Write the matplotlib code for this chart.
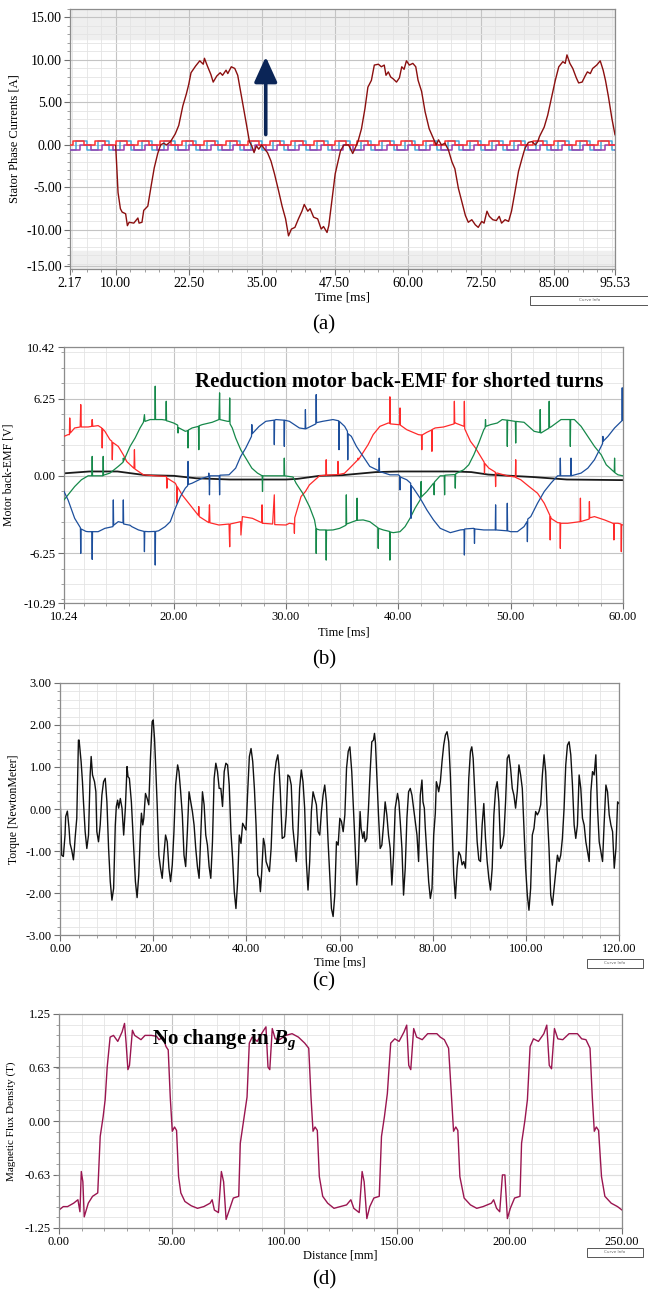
import numpy as np
import matplotlib.pyplot as plt
from matplotlib.ticker import MultipleLocator, FixedLocator
from matplotlib.patches import Rectangle

plt.rcParams['font.family'] = ['Liberation Serif', 'DejaVu Serif']
plt.rcParams['mathtext.fontset'] = 'custom'
plt.rcParams['mathtext.it'] = 'Liberation Serif:italic:bold'
plt.rcParams['mathtext.rm'] = 'Liberation Serif:bold'

# ---------------- (a) stator phase current ----------------
cur_t = [10.0, 10.2, 10.4, 10.8, 11.1, 11.7, 12.0, 12.3, 13.1, 13.8, 14.0, 14.5, 14.8, 15.5, 16.1, 16.6,
         17.2, 17.7, 18.2, 18.7, 19.4, 20.2, 20.8, 21.5, 22.1, 22.5, 22.9, 23.7, 24.4, 25.0, 25.2, 25.7,
         26.3, 26.7, 27.3, 27.9, 28.3, 28.9, 29.2, 29.8, 30.4, 30.9, 31.5, 31.9, 32.4, 32.9, 33.3, 33.7,
         34.1, 34.5, 35.0, 35.4, 36.0, 36.6, 37.2, 37.9, 38.5, 39.1, 39.6, 40.1, 40.7, 41.3, 41.9, 42.3,
         42.9, 43.3, 43.9, 44.6, 45.2, 45.6, 46.2, 46.5, 47.1, 47.6, 48.1, 48.5, 49.1, 49.9, 50.6, 51.0,
         51.5, 52.1, 52.7, 53.2, 53.8, 54.3, 55.0, 55.5, 56.0, 56.3, 56.7, 57.1, 57.5, 58.1, 58.6, 59.0,
         59.4, 59.8, 60.3, 60.9, 61.4, 61.8, 62.4, 63.0, 63.7, 64.4, 64.9, 65.3, 65.8, 66.4, 67.0, 67.6,
         68.1, 68.7, 69.3, 69.9, 70.4, 71.0, 71.6, 72.1, 72.7, 73.1, 73.6, 74.0, 74.6, 75.2, 75.7, 76.1,
         76.7, 77.3, 77.8, 78.4, 79.0, 79.6, 80.1, 80.7, 81.3, 81.9, 82.3, 82.6, 83.4, 84.0, 84.5, 85.3,
         85.9, 86.6, 87.0, 87.3, 87.8, 88.3, 88.9, 89.3, 89.9, 90.4, 90.8, 91.3, 91.7, 92.4, 93.0, 93.5,
         93.9, 94.4, 95.0, 95.53]
cur_v = [-0.1, -2.9, -5.6, -7.5, -7.9, -8.1, -9.5, -9.1, -9.2, -8.6, -9.2, -9.1, -7.7, -7.2, -4.7, -2.7,
         -1.0, 0.0, 0.2, 0.0, 0.4, 1.3, 2.3, 4.6, 6.0, 7.1, 8.5, 9.3, 9.9, 9.5, 10.2, 9.3,
         8.3, 7.4, 8.1, 8.5, 8.2, 8.8, 8.4, 9.2, 9.0, 8.2, 5.9, 4.4, 2.4, 0.4, -0.1, -0.9,
         -0.1, -0.5, 0.0, -0.4, -0.9, -1.9, -3.4, -5.4, -7.2, -8.7, -10.7, -9.9, -9.7, -8.7, -7.8, -7.0,
         -7.8, -7.5, -8.5, -8.7, -9.9, -9.6, -10.3, -9.5, -6.2, -3.4, -1.9, -0.7, 0.0, 0.0, -1.0, -0.4,
         0.4, 1.9, 4.3, 6.8, 7.6, 9.4, 9.5, 9.2, 9.4, 8.2, 8.6, 8.0, 7.8, 7.4, 7.9, 9.2,
         8.9, 9.9, 9.4, 9.6, 9.2, 7.6, 6.3, 3.9, 1.9, 0.8, 0.0, 0.6, 0.0, 0.2, -0.6, -2.0,
         -2.8, -5.1, -6.7, -8.3, -9.1, -8.8, -9.4, -9.7, -9.0, -9.2, -7.8, -8.4, -8.8, -8.9, -8.4, -9.2,
         -8.8, -9.0, -7.8, -5.5, -3.1, -1.6, -0.4, 0.3, 0.4, 0.0, 0.4, 1.0, 2.1, 3.5, 5.1, 7.6,
         9.2, 9.8, 9.6, 10.6, 9.6, 9.0, 7.9, 7.3, 7.4, 8.1, 8.6, 8.4, 9.0, 9.4, 9.9, 8.8,
         7.6, 5.7, 3.1, 1.2]

# switching signals drawn around zero (edge times in ms)
sw_red_edges = [2.6, 4.5, 6.4, 8.2, 10.1, 12.0, 13.9, 15.7, 17.6, 19.5, 21.4, 23.2, 25.1, 27.0, 28.9,
                30.7, 32.6, 34.5, 36.4, 38.2, 40.1, 42.0, 43.9, 45.7, 47.6, 49.5, 51.4, 53.2, 55.1, 57.0,
                58.9, 60.7, 62.6, 64.5, 66.4, 68.2, 70.1, 72.0, 73.9, 75.7, 77.6, 79.5, 81.4, 83.2, 85.1,
                87.0, 88.9, 90.7, 92.6, 94.5]
sw_purple_edges = [3.9, 5.7, 7.6, 9.5, 11.4, 13.2, 15.1, 17.0, 18.9, 20.7, 22.6, 24.5, 26.4, 28.2, 30.1,
                   32.0, 33.9, 35.7, 37.6, 39.5, 41.4, 43.2, 45.1, 47.0, 48.9, 50.7, 52.6, 54.5, 56.4, 58.2,
                   60.1, 62.0, 63.9, 65.7, 67.6, 69.5, 71.4, 73.2, 75.1, 77.0, 78.9, 80.7, 82.6, 84.5, 86.4,
                   88.2, 90.1, 92.0, 93.9, 95.7]
sw_blue_edges = [3.2, 5.1, 7.0, 8.8, 10.7, 12.6, 14.5, 16.3, 18.2, 20.1, 22.0, 23.8, 25.7, 27.6, 29.5,
                 31.3, 33.2, 35.1, 37.0, 38.8, 40.7, 42.6, 44.5, 46.3, 48.2, 50.1, 52.0, 53.8, 55.7, 57.6,
                 59.5, 61.3, 63.2, 65.1, 67.0, 68.8, 70.7, 72.6, 74.5, 76.3, 78.2, 80.1, 82.0, 83.8, 85.7,
                 87.6, 89.5, 91.3, 93.2, 95.1]

# ---------------- (b) back-EMF ----------------
red_t = [10.24, 10.6, 10.72, 10.75, 10.8, 11.19, 11.68, 11.73, 11.78, 12.39, 12.7, 12.75, 12.8, 13.28, 13.6,
         13.64, 13.68, 13.88, 14.33, 14.5, 14.54, 14.58, 15.07, 15.52, 15.82, 16.47, 16.51, 16.55, 16.87,
         17.31, 18.36, 19.25, 19.36, 19.40, 19.44, 20.15, 20.26, 20.30, 20.34, 20.75, 21.34, 22.2, 22.24,
         22.28, 23.13, 23.19, 23.23, 24.03, 24.93, 24.99, 25.03, 25.97, 25.99, 26.12, 27.01, 27.85, 27.87,
         27.91, 28.81, 28.96, 29.0, 30.0, 30.30, 30.72, 30.75, 30.78, 30.90, 31.34, 31.73, 32.09, 32.99,
         33.55, 33.58, 33.61, 34.60, 34.63, 34.66, 35.2, 35.67, 36.40, 36.42, 36.45, 37.31, 37.76, 38.36,
         39.10, 39.22, 39.25, 39.28, 40.0, 40.12, 40.15, 40.18, 40.75, 41.79, 42.06, 42.09, 42.12, 42.54,
         42.96, 42.99, 43.02, 43.28, 44.03, 44.96, 44.99, 45.02, 45.07, 45.85, 45.88, 45.91, 46.42, 46.87,
         47.61, 47.64, 47.67, 47.70, 48.06, 48.63, 48.66, 48.69, 48.81, 49.70, 50.42, 50.45, 50.48, 50.90,
         51.64, 52.39, 52.99, 53.49, 53.52, 53.55, 53.58, 54.18, 54.39, 54.42, 54.45, 55.07, 56.18, 56.21,
         56.24, 56.98, 57.01, 57.04, 57.46, 58.36, 59.10, 59.16, 59.19, 59.22, 59.55, 59.82, 59.85, 59.88,
         60.0]
red_v = [3.19, 3.33, 3.33, 4.68, 3.46, 3.87, 3.95, 5.76, 3.95, 3.95, 4.0, 4.55, 4.0, 4.06, 3.87,
         2.25, 3.8, 3.60, 2.92, 2.8, 1.30, 2.7, 2.38, 1.70, 1.16, 0.6, 2.11, 0.55, 0.35,
         0.08, 0.0, -0.05, -0.05, -1.0, -0.2, -0.60, -0.8, -2.22, -0.9, -1.54, -2.22, -3.2, -2.49,
         -3.3, -3.79, -2.35, -3.8, -3.98, -3.90, -5.74, -3.9, -3.71, -4.79, -3.30, -3.44, -3.8, -2.35,
         -3.84, -3.90, -1.54, -3.95, -3.98, -3.84, -3.9, -4.65, -3.4, -3.03, -1.68, -1.27, -0.73, 0.0,
         0.05, 1.30, 0.05, 0.1, 1.16, 0.1, 0.2, 0.62, 1.3, 1.43, 1.3, 2.52, 3.33, 4.00,
         4.27, 4.27, 6.39, 4.2, 4.14, 4.14, 5.49, 4.1, 3.73, 3.33, 3.3, 2.11, 3.3, 3.52,
         3.7, 1.98, 3.75, 3.87, 3.95, 4.2, 6.03, 4.27, 4.27, 4.0, 6.03, 3.8, 2.79, 2.25,
         1.16, 1.1, 0.22, 1.0, 0.62, 0.3, -0.87, 0.2, 0.22, 0.0, -0.1, 1.3, -0.15, -0.32,
         -0.87, -1.41, -2.22, -3.2, -5.19, -3.3, -3.44, -3.79, -3.8, -5.87, -3.84, -3.84, -3.71, -1.81,
         -3.7, -3.5, -2.08, -3.4, -3.30, -3.57, -3.84, -3.84, -5.19, -3.84, -3.84, -3.9, -6.14, -3.95,
         -3.98]

green_t = [10.24, 10.6, 11.19, 11.79, 12.39, 12.72, 12.75, 12.78, 13.28, 13.70, 13.73, 13.76, 14.33, 15.07,
           15.5, 15.52, 15.55, 16.12, 16.57, 17.01, 17.31, 17.40, 17.45, 17.91, 18.33, 18.36, 18.39, 18.96,
           19.31, 19.34, 19.37, 19.55, 20.0, 20.36, 20.39, 20.42, 21.04, 21.25, 21.28, 21.31, 21.64, 22.21,
           22.24, 22.27, 22.54, 23.43, 24.03, 24.09, 24.12, 24.78, 24.96, 24.99, 25.02, 25.22, 25.52, 25.97,
           26.42, 26.96, 27.46, 27.88, 27.91, 27.94, 28.81, 29.82, 29.85, 29.88, 30.63, 30.90, 31.49, 32.09,
           32.54, 32.66, 32.69, 32.72, 32.99, 33.55, 33.58, 33.61, 34.18, 34.78, 35.34, 35.37, 35.40, 35.97,
           36.30, 36.33, 36.36, 36.87, 37.46, 38.06, 38.18, 38.21, 38.24, 38.66, 39.22, 39.25, 39.28, 39.55,
           40.15, 40.60, 41.04, 41.49, 41.94, 42.0, 42.03, 42.06, 42.54, 43.13, 43.16, 43.19, 43.22, 43.73,
           44.09, 44.12, 44.15, 44.63, 45.04, 45.07, 45.10, 45.22, 45.82, 46.27, 46.72, 47.16, 47.61, 47.73,
           47.76, 47.79, 48.21, 48.81, 49.25, 49.67, 49.70, 49.73, 50.30, 50.42, 50.45, 50.48, 51.19, 52.09,
           52.60, 52.63, 52.66, 52.69, 53.40, 53.43, 53.46, 53.58, 54.48, 55.28, 55.31, 55.34, 55.67, 56.27,
           56.87, 57.46, 58.06, 58.51, 59.22, 59.25, 59.28, 59.55, 60.0]
green_v = [-1.95, -1.54, -0.87, -0.32, 0.0, 0.0, 1.57, 0.0, 0.0, 0.0, 1.57, 0.05, 0.22, 0.76,
           1.1, 1.43, 1.2, 2.38, 3.06, 3.87, 4.33, 4.95, 4.4, 4.55, 4.55, 7.25, 4.55, 4.55,
           4.5, 6.03, 4.45, 4.41, 4.27, 4.1, 3.46, 3.9, 3.60, 3.65, 2.25, 3.7, 3.87, 4.0,
           2.11, 4.05, 4.14, 4.33, 4.55, 6.71, 4.55, 4.41, 4.4, 6.30, 4.2, 3.87, 3.06, 2.11,
           1.43, 0.62, 0.22, 0.0, -1.27, 0.0, 0.0, 0.0, 1.43, 0.0, -0.1, -0.60, -1.41, -2.49,
           -3.57, -4.2, -6.28, -4.3, -4.38, -4.38, -6.82, -4.4, -4.38, -4.25, -4.0, -1.54, -3.9, -3.71,
           -3.6, -1.81, -3.6, -3.57, -3.71, -4.11, -4.2, -5.87, -4.25, -4.38, -4.5, -6.82, -4.55, -4.60,
           -4.52, -4.11, -3.44, -2.62, -1.95, -1.8, -0.46, -1.7, -1.27, -0.60, -0.6, -1.54, -0.5, 0.0,
           0.0, -1.54, 0.05, 0.08, 0.1, -1.0, 0.15, 0.22, 0.49, 0.89, 1.70, 2.65, 3.73, 3.9,
           4.55, 4.0, 4.14, 4.27, 4.55, 4.5, 2.38, 4.5, 4.41, 4.4, 2.65, 4.4, 4.33, 3.60,
           3.5, 5.36, 3.5, 3.46, 3.85, 6.03, 3.9, 3.95, 4.55, 4.55, 2.38, 4.55, 4.55, 4.0,
           3.19, 2.38, 1.70, 0.89, 0.3, 1.43, 0.25, 0.08, 0.0]

blue_t = [10.24, 10.6, 11.19, 11.64, 11.70, 11.73, 11.76, 12.2, 12.39, 12.72, 12.75, 12.78, 13.28, 13.88,
          14.60, 14.63, 14.66, 15.07, 15.49, 15.52, 15.55, 16.12, 16.27, 16.87, 17.37, 17.40, 17.43, 17.76,
          18.33, 18.36, 18.39, 18.66, 19.25, 19.70, 20.15, 20.60, 21.04, 21.25, 21.28, 21.31, 21.64, 22.54,
          23.10, 23.13, 23.16, 23.19, 23.22, 24.06, 24.09, 24.12, 24.93, 25.52, 25.97, 26.42, 26.93, 26.96,
          26.99, 27.61, 28.21, 28.93, 28.96, 28.99, 29.10, 29.82, 29.85, 29.88, 30.30, 31.19, 31.70, 31.73,
          31.76, 32.09, 32.66, 32.69, 32.72, 33.28, 34.18, 34.69, 34.72, 34.75, 35.22, 35.47, 35.50, 35.53,
          35.82, 36.27, 36.87, 37.46, 38.27, 38.30, 38.33, 39.25, 40.0, 40.12, 40.15, 40.18, 40.75, 41.10,
          41.13, 41.16, 41.34, 41.94, 42.54, 43.13, 43.73, 44.63, 45.52, 45.85, 45.88, 45.91, 46.72, 46.75,
          46.78, 46.81, 47.61, 48.63, 48.66, 48.69, 49.67, 49.70, 49.73, 50.0, 50.60, 51.19, 51.46, 51.49,
          51.52, 51.79, 52.39, 52.99, 53.58, 54.18, 54.39, 54.42, 54.45, 55.34, 55.37, 55.40, 56.27, 56.87,
          57.46, 58.06, 58.18, 58.21, 58.24, 58.66, 59.25, 59.85, 59.90, 59.93, 59.96, 60.0]
blue_v = [-1.27, -1.95, -3.44, -4.11, -4.2, -6.28, -4.3, -4.5, -4.52, -4.52, -6.76, -4.52, -4.52, -4.25,
          -4.11, -1.95, -4.0, -3.71, -3.8, -1.95, -3.9, -4.0, -4.11, -4.38, -4.5, -6.14, -4.5, -4.52,
          -4.5, -7.22, -4.5, -4.45, -4.11, -3.71, -2.62, -1.68, -1.0, -0.8, 1.16, -0.7, -0.60, -0.2,
          -0.05, 0.22, -0.1, -1.54, 0.0, 0.0, -1.54, 0.05, 0.08, 0.62, 1.57, 2.25, 3.19, 4.14,
          3.4, 4.00, 4.41, 4.5, 2.52, 4.5, 4.55, 4.5, 2.38, 4.5, 4.41, 3.87, 3.8, 5.36,
          3.8, 3.95, 4.2, 6.57, 4.3, 4.41, 4.55, 4.45, 2.11, 4.4, 4.00, 3.6, 1.30, 3.4,
          3.19, 2.38, 1.57, 0.76, 0.4, 1.43, 0.35, 0.08, 0.08, 0.0, -1.14, -0.1, -0.32, -0.6,
          -3.44, -0.8, -1.0, -1.81, -2.76, -3.57, -4.25, -4.60, -4.38, -4.35, -6.41, -4.3, -4.25, -4.3,
          -5.47, -4.3, -4.38, -4.38, -2.35, -4.38, -4.45, -2.22, -4.45, -4.52, -4.52, -4.11, -3.7, -5.33,
          -3.5, -3.30, -2.22, -1.27, -0.60, 0.0, 0.0, 1.43, 0.0, 0.0, 1.43, 0.0, 0.22, 0.62,
          1.30, 2.38, 2.6, 3.19, 2.8, 3.19, 3.87, 4.41, 4.45, 7.12, 4.5, 4.55]

emf0_t = [10.24, 12.5, 15.0, 17.5, 20.0, 22.0, 25.0, 30.0, 31.0, 33.0, 35.0, 38.0, 40.0, 45.0, 46.5,
          48.0, 50.0, 52.0, 55.0, 60.0]
emf0_v = [0.2, 0.35, 0.35, 0.05, 0.0, -0.2, -0.3, -0.3, -0.25, 0.0, 0.05, 0.3, 0.35, 0.35, 0.3,
          0.1, 0.0, -0.1, -0.3, -0.35]

# ---------------- (c) torque ----------------
torque_t = [0.0, 0.15, 0.36, 0.72, 1.08, 1.22, 1.58, 1.94, 2.16, 2.52, 2.88, 3.09, 3.24, 3.60, 3.96, 4.10,
            4.53, 4.82, 5.04, 5.40, 5.76, 6.12, 6.47, 6.69, 6.98, 7.41, 7.70, 7.91, 8.27, 8.63, 8.99, 9.35,
            9.71, 10.07, 10.43, 10.79, 11.15, 11.51, 11.87, 12.09, 12.37, 12.59, 12.95, 13.31, 13.67, 14.03,
            14.39, 14.60, 14.89, 15.32, 15.83, 16.19, 16.55, 16.91, 17.27, 17.48, 17.77, 17.99, 18.35, 18.71,
            19.06, 19.42, 19.78, 20.00, 20.29, 20.50, 20.86, 21.22, 21.58, 21.94, 22.30, 22.66, 23.02, 23.38,
            23.74, 24.10, 24.46, 24.82, 25.25, 25.54, 25.90, 26.26, 26.62, 26.98, 27.34, 27.70, 28.06, 28.42,
            28.78, 29.14, 29.50, 29.86, 30.22, 30.58, 30.94, 31.29, 31.65, 32.01, 32.37, 32.73, 33.09, 33.45,
            33.81, 34.17, 34.53, 34.89, 35.25, 35.61, 35.97, 36.33, 36.69, 37.05, 37.41, 37.77, 38.13, 38.49,
            38.85, 39.21, 39.57, 39.93, 40.29, 40.65, 41.01, 41.37, 41.73, 42.09, 42.45, 42.81, 43.02, 43.31,
            43.67, 43.96, 44.24, 44.60, 44.96, 45.32, 45.68, 46.04, 46.40, 46.76, 46.98, 47.27, 47.70, 48.20,
            48.56, 48.92, 49.28, 49.64, 50.00, 50.36, 50.72, 51.08, 51.44, 51.80, 52.16, 52.52, 52.88, 53.24,
            53.60, 53.96, 54.32, 54.68, 55.04, 55.40, 55.76, 56.12, 56.47, 56.83, 57.19, 57.55, 57.91, 58.27,
            58.63, 58.99, 59.35, 59.71, 60.07, 60.43, 60.79, 61.15, 61.51, 61.87, 62.23, 62.63, 62.99, 63.35,
            63.70, 64.06, 64.42, 64.64, 65.00, 65.28, 65.50, 65.86, 66.22, 66.58, 66.93, 67.29, 67.51, 67.72,
            68.01, 68.37, 68.73, 69.09, 69.45, 69.80, 70.16, 70.52, 70.88, 71.24, 71.60, 71.96, 72.46, 72.75,
            73.04, 73.40, 73.75, 74.11, 74.47, 74.83, 75.19, 75.55, 75.91, 76.27, 76.63, 76.98, 77.34, 77.70,
            77.92, 78.21, 78.42, 78.78, 79.14, 79.50, 79.86, 80.22, 80.57, 80.79, 81.08, 81.29, 81.65, 82.01,
            82.37, 82.73, 83.09, 83.45, 83.80, 84.16, 84.52, 84.88, 85.24, 85.60, 85.96, 86.32, 86.68, 87.04,
            87.39, 87.75, 88.11, 88.40, 88.69, 88.97, 89.26, 89.55, 89.91, 90.27, 90.62, 90.98, 91.34, 91.70,
            92.06, 92.42, 92.78, 93.14, 93.50, 93.85, 94.21, 94.57, 94.93, 95.29, 95.65, 96.01, 96.37, 96.73,
            97.09, 97.44, 97.80, 98.16, 98.52, 98.88, 99.24, 99.60, 99.96, 100.32, 100.67, 101.03, 101.39,
            101.75, 102.11, 102.47, 102.83, 103.19, 103.55, 103.91, 104.26, 104.62, 104.98, 105.34, 105.70,
            106.06, 106.42, 106.78, 107.14, 107.49, 107.85, 108.21, 108.57, 108.93, 109.29, 109.65, 110.01,
            110.37, 110.72, 111.08, 111.44, 111.80, 112.16, 112.52, 112.88, 113.24, 113.60, 113.96, 114.31,
            114.67, 115.03, 115.39, 115.75, 116.11, 116.47, 116.83, 117.19, 117.54, 117.90, 118.26, 118.62,
            118.98, 119.34, 119.70, 120.0]
torque_v = [0.33, -0.22, -1.10, -1.13, -0.62, -0.18, -0.05, -0.46, -0.82, -0.98, -1.21, -0.94, -0.70, -0.22,
            1.64, 1.64, 1.13, 0.65, 0.17, -0.54, -0.94, -0.62, 0.81, 1.25, 0.81, 0.65, 0.41, -0.54, -0.78,
            -0.38, 0.33, 0.65, 0.73, 0.17, -0.94, -1.73, -2.17, -1.89, -0.38, 0.06, 0.21, 0.02, 0.25, 0.02,
            -0.62, 0.02, 1.01, 0.77, 0.73, 0.17, -0.94, -1.73, -2.11, -1.57, -0.54, -0.10, -0.38, -0.22, 0.37,
            0.25, 0.10, 1.21, 2.08, 2.12, 1.68, 1.13, 0.10, -1.10, -1.41, -1.65, -1.10, -0.62, -0.78, -1.41,
            -1.73, -1.33, -0.54, 0.57, 1.05, 0.89, 0.41, -0.14, -1.10, -1.37, -0.54, 0.41, 0.17, -0.06, -0.38,
            -0.94, -1.37, -1.65, -0.62, 0.41, 0.10, -0.62, -0.86, -1.37, -1.65, -0.78, 0.73, 1.09, 0.89, 0.49,
            0.49, 0.06, 0.89, 1.09, 1.05, 0.57, -0.54, -1.17, -1.97, -2.37, -1.73, -0.62, -0.82, -0.34, -0.42,
            -0.50, 0.41, 1.25, 1.44, 1.13, 0.49, -0.38, -1.57, -1.65, -1.97, -1.49, -0.70, -0.86, -1.25, -1.37,
            -1.49, -0.94, 0.10, 0.81, 1.13, 1.29, 1.05, 0.49, -0.70, -0.66, -0.14, 0.81, 0.77, 0.57, -0.46,
            -0.86, -1.25, -0.62, 0.49, 0.93, 0.65, 0.02, -1.25, -1.93, -1.25, -0.06, 0.41, 0.25, 0.10, -0.54,
            -0.62, -0.06, 0.33, 0.57, 0.17, -0.78, -1.57, -2.37, -2.56, -2.04, -0.78, -0.86, -0.22, -0.30,
            -0.54, -0.14, 0.97, 1.37, 1.48, 0.89, 0.02, -0.86, -1.81, -1.25, -0.06, -0.46, -0.70, -0.54, -0.78,
            -0.70, 0.02, 0.89, 1.60, 1.64, 1.80, 1.57, 0.81, -0.14, -0.94, -0.86, -0.38, 0.17, -0.14, -0.62,
            -0.94, -1.81, -1.10, 0.02, 0.37, 0.17, -0.30, -0.94, -2.05, -1.41, -0.22, 0.41, 0.49, 0.33, 0.02,
            -0.30, -0.62, -1.25, 0.33, 0.69, 0.17, 0.02, -0.46, -1.10, -1.73, -2.13, -1.89, -0.62, -0.10, 0.65,
            0.53, 0.41, 0.65, 1.13, 1.52, 1.76, 1.84, 1.60, 0.81, -0.38, -1.57, -2.13, -1.41, -1.02, -1.10,
            -1.33, -1.25, -1.41, -0.46, 0.73, 1.37, 1.48, 1.21, 0.57, -0.14, -0.78, -1.21, -1.25, -0.38, 0.13,
            -0.70, -1.25, -1.65, -1.93, -1.41, -0.14, 0.45, 0.65, 0.17, -0.94, -0.86, -0.62, 0.17, 1.21, 1.29,
            0.97, 0.49, 0.33, 0.02, 0.41, 1.05, 0.81, 0.49, -0.46, -1.41, -2.05, -2.41, -1.89, -0.62, -0.46,
            -0.06, -0.14, -0.06, 0.10, 0.81, 1.29, 0.89, -0.14, -0.94, -2.05, -2.29, -1.89, -1.49, -1.10, -1.25,
            -1.10, -0.70, 0.02, 1.05, 1.52, 1.60, 1.29, 0.57, -0.38, -0.70, -0.38, 0.81, 0.49, -0.22, -0.38,
            -0.78, -1.02, -1.25, 0.41, 0.89, 0.81, 1.29, 0.02, -0.78, -1.02, -1.25, -0.30, 0.57, 0.41, -0.14,
            -0.38, -0.54, -1.41, -0.94, 0.17, 0.13]

# ---------------- (d) air-gap flux density ----------------
bg_x = [0.0, 1.9, 3.8, 6.5, 8.4, 9.3, 9.9, 10.6, 11.2, 13.0, 14.9, 17.2, 18.3, 19.6, 20.5, 21.4, 22.7,
        24.2, 26.1, 28.0, 29.1, 29.8, 30.6, 31.3, 32.6, 33.6, 36.4, 38.2, 41.0, 43.3, 44.4, 46.2, 47.5,
        48.5, 49.4, 50.3, 51.3, 52.2, 53.1, 54.1, 55.9, 58.7, 61.5, 64.3, 67.1, 68.0, 69.0, 70.8, 72.1,
        73.1, 74.2, 76.1, 77.4, 79.8, 80.5, 82.0, 83.5, 84.5, 85.8, 88.0, 90.4, 91.9, 92.8, 93.6, 94.7,
        96.0, 97.9, 100.7, 103.5, 106.3, 109.1, 110.9, 111.9, 112.8, 113.7, 114.7, 115.6, 117.1, 119.3,
        122.1, 124.9, 127.7, 129.6, 130.9, 133.3, 134.6, 135.5, 136.7, 138.0, 139.8, 142.2, 143.2, 144.5,
        145.8, 147.3, 149.1, 151.0, 153.2, 154.4, 155.3, 156.2, 157.5, 158.8, 161.3, 163.7, 167.8, 169.3,
        171.1, 173.0, 174.3, 175.2, 176.2, 177.1, 178.0, 179.9, 182.7, 185.5, 188.3, 192.0, 193.0, 194.3,
        195.7, 196.9, 198.0, 199.1, 200.4, 202.3, 204.7, 205.4, 206.9, 208.0, 209.2, 210.7, 212.9, 215.3,
        216.6, 217.7, 218.7, 220.0, 221.5, 223.7, 226.5, 230.2, 232.1, 234.0, 235.8, 236.8, 237.7, 238.6,
        239.6, 240.9, 242.4, 245.2, 248.0, 250.0]
bg_v = [-1.04, -1.0, -1.0, -0.96, -0.92, -1.06, -0.59, -0.71, -1.12, -0.96, -0.88, -0.84, -0.18, 0.05,
        0.25, 0.63, 0.98, 1.0, 0.93, 1.04, 1.14, 0.91, 0.60, 0.65, 1.06, 1.0, 0.95, 1.0, 1.0, 0.99,
        0.95, 0.98, 0.87, 0.83, 0.28, -0.12, -0.07, -0.11, -0.65, -0.84, -0.94, -0.99, -1.02, -1.0,
        -0.96, -0.92, -1.04, -1.07, -0.59, -0.71, -1.15, -1.0, -0.9, -0.88, -0.26, 0.01, 0.28, 0.91,
        0.98, 0.93, 1.04, 1.10, 0.63, 0.60, 1.08, 0.96, 0.95, 1.0, 1.02, 0.98, 0.91, 0.85, 0.28, -0.12,
        -0.07, -0.11, -0.65, -0.88, -0.96, -1.02, -1.0, -0.98, -0.92, -1.02, -1.07, -0.59, -0.71, -1.14,
        -1.0, -0.9, -0.88, -0.18, 0.05, 0.32, 0.91, 0.96, 0.93, 1.04, 1.12, 0.65, 0.60, 1.08, 0.98, 0.95,
        1.02, 1.02, 0.98, 0.95, 0.85, 0.28, -0.12, -0.07, -0.11, -0.65, -0.90, -0.98, -1.02, -1.0, -0.96,
        -0.92, -1.02, -1.06, -0.63, -0.63, -1.14, -1.02, -0.90, -0.88, -0.26, 0.01, 0.25, 0.87, 0.96,
        0.93, 1.02, 1.12, 0.65, 0.61, 1.08, 0.96, 0.95, 1.02, 1.02, 0.96, 0.95, 0.85, 0.28, -0.12, -0.07,
        -0.11, -0.65, -0.88, -0.96, -1.0, -1.04]

W, H = 648, 1291
fig = plt.figure(figsize=(W / 100, H / 100), dpi=100)


def px_axes(left, top, right, bottom):
    return fig.add_axes([left / W, 1 - bottom / H, (right - left) / W, (bottom - top) / H])


def style(ax, fs):
    for s in ax.spines.values():
        s.set_color('#8c8c8c')
        s.set_linewidth(0.9)
    ax.grid(which='major', color='#c4c4c4', lw=0.8)
    ax.grid(which='minor', color='#e4e4e4', lw=0.6)
    ax.set_axisbelow(True)
    ax.tick_params(which='major', length=4, color='#707070', labelsize=fs, pad=2)
    ax.tick_params(which='minor', length=2.5, color='#909090')


def square(edges, hi, lo, t0, t1):
    xs, ys = [t0], [lo]
    level = lo
    for e in edges:
        xs += [e, e]
        ys += [level, hi if level == lo else lo]
        level = hi if level == lo else lo
    xs.append(t1)
    ys.append(level)
    return xs, ys


def curve_info(x0, y0, x1, y1):
    fig.add_artist(Rectangle((x0 / W, 1 - y1 / H), (x1 - x0) / W, (y1 - y0) / H,
                             transform=fig.transFigure, fc='white', ec='#555555', lw=0.7))
    fig.text((x0 + x1) / 2 / W, 1 - (y0 + 4) / H, 'Curve Info', fontsize=3, color='#666666',
             ha='center', va='center', family='DejaVu Sans')


# ---- (a)
ax = px_axes(70, 9, 615, 269)
ax.set_facecolor('white')
ax.axhspan(12.5, 16.5, color='#efefef', zorder=0)
ax.axhspan(-16, -12.5, color='#efefef', zorder=0)
for edges, hi, lo, c in [(sw_blue_edges, 0.45, -0.55, '#4aa8d8'),
                         (sw_purple_edges, 0.0, -0.55, '#9a3fb0'),
                         (sw_red_edges, 0.45, -0.05, '#ff3030')]:
    xs, ys = square(edges, hi, lo, 2.17, 95.53)
    ax.plot(xs, ys, color=c, lw=1.1, zorder=3)
ax.plot(cur_t, cur_v, color='#8b0f0f', lw=1.0, zorder=4)
ax.annotate('', xy=(35.7, 10.7), xytext=(35.7, 0.9),
            arrowprops=dict(arrowstyle='-|>,head_width=0.5,head_length=1.1', lw=2.6,
                            color='#0b2557', mutation_scale=14), zorder=5)
ax.set_xlim(2.17, 95.53)
ax.set_ylim(-14.6, 16.0)
ax.xaxis.set_major_locator(FixedLocator([2.17, 10, 22.5, 35, 47.5, 60, 72.5, 85, 95.53]))
ax.xaxis.set_minor_locator(MultipleLocator(2.5))
ax.yaxis.set_major_locator(FixedLocator([-15, -10, -5, 0, 5, 10, 15]))
ax.yaxis.set_minor_locator(MultipleLocator(1))
ax.set_yticks([-14.2, -10, -5, 0, 5, 10, 15])
ax.set_yticklabels(['-15.00', '-10.00', '-5.00', '0.00', '5.00', '10.00', '15.00'])
ax.set_xticklabels(['2.17', '10.00', '22.50', '35.00', '47.50', '60.00', '72.50', '85.00', '95.53'])
style(ax, 10)
ax.set_xlabel('Time [ms]', fontsize=9.5, labelpad=1)
ax.set_ylabel('Stator Phase Currents [A]', fontsize=9, labelpad=4)
curve_info(530, 296, 650, 305)
fig.text(324 / W, 1 - 325 / H, '(a)', fontsize=15, ha='center', va='center')

# ---- (b)
ax = px_axes(64, 347, 623, 603)
ax.plot(emf0_t, emf0_v, color='#1a1a1a', lw=1.3, zorder=2)
ax.plot(red_t, red_v, color='#ff2a2a', lw=0.9, zorder=3)
ax.plot(green_t, green_v, color='#16894a', lw=0.9, zorder=3)
ax.plot(blue_t, blue_v, color='#1d4f9c', lw=0.9, zorder=3)
ax.set_xlim(10.24, 60)
ax.set_ylim(-10.29, 10.42)
ax.set_xticks([10.24, 20, 30, 40, 50, 60])
ax.set_xticklabels(['10.24', '20.00', '30.00', '40.00', '50.00', '60.00'])
ax.set_yticks([-10.29, -6.25, 0, 6.25, 10.42])
ax.set_yticklabels(['-10.29', '-6.25', '0.00', '6.25', '10.42'])
ax.xaxis.set_minor_locator(MultipleLocator(2))
ax.yaxis.set_minor_locator(MultipleLocator(1.25))
style(ax, 9)
ax.set_xlabel('Time [ms]', fontsize=9, labelpad=2)
ax.set_ylabel('Motor back-EMF [V]', fontsize=8.5, labelpad=6)
ax.text(0.235, 0.865, 'Reduction motor back-EMF for shorted turns', transform=ax.transAxes,
        fontsize=15, fontweight='bold', ha='left', va='center')
fig.text(324 / W, 1 - 660 / H, '(b)', fontsize=15, ha='center', va='center')

# ---- (c)
ax = px_axes(60, 683, 619, 935)
ax.plot(torque_t, torque_v, color='#111111', lw=1.0)
ax.set_xlim(0, 120)
ax.set_ylim(-3, 3)
ax.set_xticks(range(0, 121, 20))
ax.set_xticklabels(['%.2f' % v for v in range(0, 121, 20)])
ax.set_yticks(range(-3, 4))
ax.set_yticklabels(['%.2f' % v for v in range(-3, 4)])
ax.xaxis.set_minor_locator(MultipleLocator(4))
ax.yaxis.set_minor_locator(MultipleLocator(0.2))
style(ax, 9)
ax.set_xlabel('Time [ms]', fontsize=9, labelpad=1)
ax.set_ylabel('Torque [NewtonMeter]', fontsize=8.5, labelpad=4)
curve_info(587, 959, 643, 968)
fig.text(324 / W, 1 - 982 / H, '(c)', fontsize=15, ha='center', va='center')

# ---- (d)
ax = px_axes(59, 1014, 622, 1228)
ax.plot(bg_x, bg_v, color='#9a1550', lw=1.0)
ax.set_xlim(0, 250)
ax.set_ylim(-1.25, 1.25)
ax.set_xticks(range(0, 251, 50))
ax.set_xticklabels(['%.2f' % v for v in range(0, 251, 50)])
ax.set_yticks([-1.25, -0.63, 0, 0.63, 1.25])
ax.set_yticklabels(['-1.25', '-0.63', '0.00', '0.63', '1.25'])
ax.xaxis.set_minor_locator(MultipleLocator(10))
ax.yaxis.set_minor_locator(MultipleLocator(0.125))
style(ax, 9)
ax.set_xlabel('Distance [mm]', fontsize=9, labelpad=1)
ax.set_ylabel('Magnetic Flux Density (T)', fontsize=8, labelpad=6)
ax.text(0.165, 0.88, r'No change in $B_g$', transform=ax.transAxes,
        fontsize=15, fontweight='bold', ha='left', va='center')
curve_info(587, 1248, 643, 1257)
fig.text(324 / W, 1 - 1280 / H, '(d)', fontsize=15, ha='center', va='center')

fig.savefig('out.png', dpi=100)
